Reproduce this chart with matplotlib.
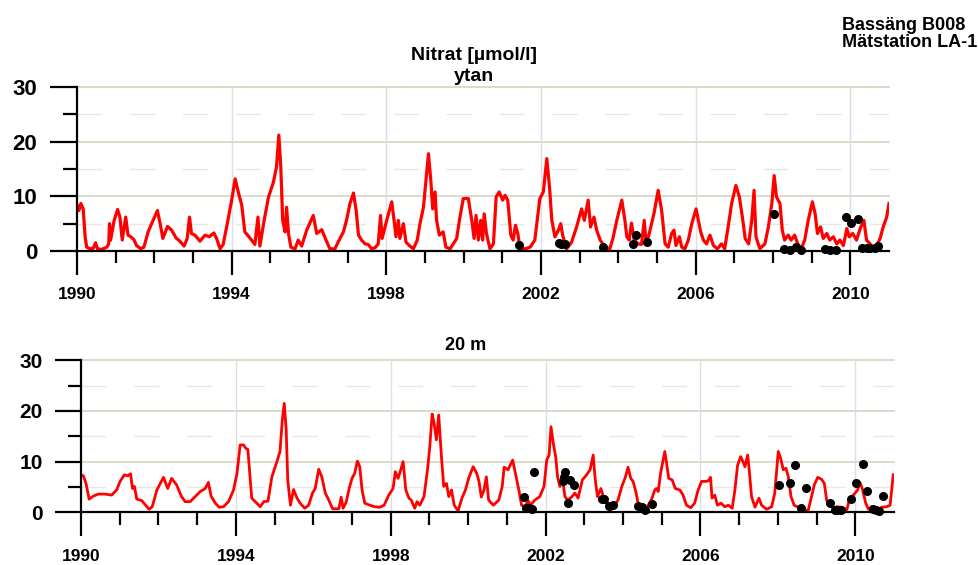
import matplotlib
matplotlib.use("Agg")
import matplotlib.pyplot as plt
import numpy as np
from matplotlib.ticker import FixedLocator

plt.rcParams['font.family'] = ['Liberation Sans', 'DejaVu Sans']
plt.rcParams['font.weight'] = 'bold'

# ---- surface (ytan) model series ----
surf_year = [
    1990.00, 1990.05, 1990.10, 1990.16, 1990.21, 1990.25, 1990.34, 1990.42, 1990.48, 1990.53, 1990.64, 1990.77, 1990.82, 1990.84, 1990.87, 1990.96,
    1991.05, 1991.11, 1991.17, 1991.26, 1991.32, 1991.39, 1991.47, 1991.54, 1991.65, 1991.73, 1991.84, 1991.93,
    1992.08, 1992.15, 1992.22, 1992.34, 1992.45, 1992.56, 1992.66, 1992.77, 1992.85, 1992.91, 1992.96,
    1993.05, 1993.18, 1993.31, 1993.42, 1993.54, 1993.61, 1993.70, 1993.78, 1993.87,
    1994.00, 1994.09, 1994.17, 1994.26, 1994.34, 1994.47, 1994.60, 1994.68, 1994.73, 1994.84, 1994.95,
    1995.08, 1995.16, 1995.22, 1995.27, 1995.32, 1995.38, 1995.42, 1995.47, 1995.53, 1995.64, 1995.72, 1995.81, 1995.94,
    1996.11, 1996.20, 1996.33, 1996.44, 1996.54, 1996.67, 1996.78, 1996.89, 1996.97,
    1997.06, 1997.15, 1997.22, 1997.28, 1997.36, 1997.45, 1997.53, 1997.62, 1997.71, 1997.79, 1997.85, 1997.89,
    1998.01, 1998.14, 1998.20, 1998.25, 1998.31, 1998.35, 1998.44, 1998.51, 1998.61, 1998.70, 1998.80, 1998.87, 1998.96,
    1999.09, 1999.15, 1999.20, 1999.26, 1999.30, 1999.37, 1999.47, 1999.54, 1999.65, 1999.73, 1999.82, 1999.89, 1999.99,
    2000.12, 2000.21, 2000.27, 2000.32, 2000.38, 2000.44, 2000.49, 2000.53, 2000.59, 2000.68, 2000.77, 2000.84, 2000.92,
    2001.01, 2001.07, 2001.14, 2001.22, 2001.28, 2001.34, 2001.40, 2001.46, 2001.59, 2001.72, 2001.84, 2001.97,
    2002.06, 2002.15, 2002.22, 2002.28, 2002.36, 2002.45, 2002.51, 2002.56, 2002.66, 2002.79, 2002.92,
    2003.05, 2003.12, 2003.22, 2003.28, 2003.37, 2003.44, 2003.53, 2003.66, 2003.78, 2003.86, 2003.96,
    2004.09, 2004.17, 2004.22, 2004.28, 2004.34, 2004.41, 2004.52, 2004.60, 2004.67, 2004.72, 2004.80, 2004.92,
    2005.03, 2005.12, 2005.21, 2005.29, 2005.38, 2005.44, 2005.49, 2005.58, 2005.64, 2005.72, 2005.81, 2005.90,
    2006.01, 2006.07, 2006.13, 2006.20, 2006.28, 2006.37, 2006.46, 2006.56, 2006.67, 2006.75, 2006.84, 2006.93,
    2007.04, 2007.13, 2007.22, 2007.28, 2007.37, 2007.45, 2007.51, 2007.56, 2007.66, 2007.79, 2007.88, 2007.97,
    2008.03, 2008.09, 2008.18, 2008.24, 2008.30, 2008.39, 2008.47, 2008.56, 2008.64, 2008.73, 2008.82, 2008.91,
    2009.02, 2009.09, 2009.15, 2009.23, 2009.30, 2009.39, 2009.47, 2009.56, 2009.65, 2009.73, 2009.82, 2009.91, 2009.97,
    2010.06, 2010.16, 2010.27, 2010.35, 2010.42, 2010.51, 2010.59, 2010.68, 2010.77, 2010.85, 2010.94, 2011.00,
]
surf_no3 = [
    8.4, 7.4, 8.7, 7.7, 2.6, 0.7, 0.4, 0.5, 1.5, 0.4, 0.3, 0.7, 1.3, 5.0, 2.0, 5.6,
    7.6, 6.2, 2.0, 6.2, 2.9, 2.6, 2.1, 1.0, 0.4, 0.7, 3.5, 5.0,
    7.4, 5.0, 2.3, 4.5, 3.8, 2.4, 1.8, 0.9, 2.3, 6.2, 3.2,
    2.9, 1.8, 2.9, 2.6, 3.3, 2.3, 0.4, 1.2, 4.4,
    9.3, 13.2, 10.8, 8.4, 3.5, 2.4, 1.2, 6.2, 0.9, 5.6, 9.8,
    12.6, 15.4, 21.2, 15.4, 5.6, 3.5, 8.0, 3.2, 0.7, 0.4, 2.0, 0.9, 3.8,
    6.5, 3.2, 3.9, 2.0, 0.4, 0.4, 2.0, 3.5, 5.6,
    8.7, 10.6, 7.4, 2.9, 2.0, 1.3, 1.2, 0.4, 0.6, 1.3, 6.5, 2.3,
    5.6, 9.0, 5.6, 2.6, 5.6, 2.3, 5.0, 1.6, 0.9, 0.4, 2.0, 5.0, 8.0,
    17.8, 12.9, 7.7, 10.8, 5.6, 2.9, 3.5, 0.7, 0.4, 1.3, 2.3, 5.6, 9.6,
    9.6, 5.6, 2.3, 6.5, 2.0, 5.6, 2.0, 6.8, 3.2, 0.4, 1.3, 9.9, 10.8,
    9.3, 10.2, 9.3, 2.9, 2.0, 4.7, 3.2, 0.4, 0.4, 0.7, 2.0, 9.6,
    10.8, 16.9, 11.7, 5.6, 2.6, 3.8, 5.0, 2.9, 0.4, 1.6, 4.4,
    7.7, 5.6, 9.3, 4.4, 6.2, 3.8, 2.0, 0.7, 0.4, 2.3, 5.6,
    9.3, 5.6, 2.6, 2.0, 5.1, 2.0, 1.3, 1.2, 5.6, 1.3, 3.2, 6.8,
    11.1, 7.4, 1.3, 0.7, 3.2, 3.8, 1.0, 2.6, 0.7, 0.4, 2.0, 5.0,
    7.7, 5.6, 3.5, 2.0, 1.3, 2.9, 1.0, 0.4, 1.3, 0.4, 4.4, 8.7,
    12.0, 9.9, 5.6, 2.3, 1.3, 5.6, 11.1, 2.6, 0.4, 1.3, 4.4, 8.7,
    13.8, 9.9, 8.7, 3.8, 2.0, 2.9, 2.0, 2.9, 1.3, 0.4, 2.0, 5.6,
    9.0, 6.8, 3.2, 4.4, 2.3, 3.2, 2.0, 2.6, 1.3, 2.0, 1.0, 4.1, 2.6,
    3.2, 2.0, 4.4, 5.6, 2.0, 1.3, 0.4, 1.0, 2.3, 4.4, 6.2, 8.7,
]
surf_obs_year = [2001.42, 2002.46, 2002.53, 2002.63, 2003.61, 2004.39, 2004.46, 2004.73,
                 2008.02, 2008.29, 2008.44, 2008.59, 2008.72, 2009.34, 2009.47, 2009.62,
                 2009.90, 2010.02, 2010.20, 2010.29, 2010.42, 2010.51, 2010.64, 2010.72]
surf_obs_no3 = [1.1, 1.4, 1.3, 1.2, 0.8, 1.2, 3.0, 1.7,
                6.8, 0.4, 0.1, 0.8, 0.1, 0.4, 0.1, 0.2,
                6.2, 5.2, 5.8, 0.5, 0.5, 0.5, 0.5, 0.9]

# ---- 20 m model series ----
deep_year = [
    1990.00, 1990.06, 1990.13, 1990.21, 1990.32, 1990.45, 1990.62, 1990.79, 1990.92,
    1991.01, 1991.12, 1991.21, 1991.28, 1991.33, 1991.38, 1991.44, 1991.57, 1991.67, 1991.76, 1991.84, 1991.96,
    1992.13, 1992.24, 1992.34, 1992.47, 1992.59, 1992.69, 1992.82, 1992.95,
    1993.08, 1993.21, 1993.29, 1993.36, 1993.47, 1993.57, 1993.68, 1993.81, 1993.94,
    1994.03, 1994.11, 1994.20, 1994.26, 1994.31, 1994.41, 1994.54, 1994.63, 1994.72, 1994.83, 1994.93,
    1995.06, 1995.14, 1995.20, 1995.25, 1995.30, 1995.34, 1995.41, 1995.49, 1995.58, 1995.66, 1995.78, 1995.88, 1995.98,
    1996.05, 1996.14, 1996.22, 1996.31, 1996.40, 1996.50, 1996.66, 1996.72, 1996.77, 1996.85, 1996.93,
    1997.00, 1997.07, 1997.14, 1997.20, 1997.26, 1997.33, 1997.46, 1997.59, 1997.72, 1997.83, 1997.95,
    1998.06, 1998.12, 1998.19, 1998.26, 1998.32, 1998.39, 1998.47, 1998.53, 1998.62, 1998.68, 1998.75, 1998.86, 1998.95,
    1999.01, 1999.07, 1999.12, 1999.18, 1999.24, 1999.31, 1999.37, 1999.44, 1999.50, 1999.57, 1999.64, 1999.74, 1999.84, 1999.93,
    2000.02, 2000.13, 2000.22, 2000.28, 2000.34, 2000.41, 2000.47, 2000.53, 2000.65, 2000.79, 2000.88, 2000.93,
    2001.03, 2001.15, 2001.22, 2001.31, 2001.38, 2001.47, 2001.55, 2001.61, 2001.72, 2001.85, 2001.96,
    2002.03, 2002.09, 2002.14, 2002.20, 2002.26, 2002.31, 2002.37, 2002.43, 2002.50, 2002.57, 2002.67, 2002.76, 2002.84, 2002.95,
    2003.06, 2003.15, 2003.23, 2003.28, 2003.34, 2003.43, 2003.52, 2003.62, 2003.71, 2003.87, 2003.97,
    2004.06, 2004.13, 2004.20, 2004.26, 2004.33, 2004.39, 2004.47, 2004.56, 2004.65, 2004.73, 2004.82, 2004.86, 2004.91, 2004.97,
    2005.03, 2005.08, 2005.12, 2005.18, 2005.27, 2005.35, 2005.47, 2005.55, 2005.64, 2005.75, 2005.85, 2005.94,
    2006.03, 2006.13, 2006.20, 2006.26, 2006.30, 2006.37, 2006.44, 2006.53, 2006.63, 2006.72, 2006.82, 2006.89, 2006.96,
    2007.04, 2007.10, 2007.15, 2007.22, 2007.26, 2007.32, 2007.41, 2007.51, 2007.58, 2007.71, 2007.84, 2007.92,
    2008.01, 2008.07, 2008.14, 2008.21, 2008.27, 2008.34, 2008.42, 2008.53, 2008.61, 2008.70, 2008.78, 2008.87, 2008.94,
    2009.03, 2009.13, 2009.20, 2009.26, 2009.34, 2009.43, 2009.52, 2009.65, 2009.78, 2009.86, 2009.95,
    2010.06, 2010.12, 2010.18, 2010.27, 2010.34, 2010.42, 2010.50, 2010.59, 2010.68, 2010.81, 2010.90, 2010.98,
]
deep_no3 = [
    7.4, 7.2, 5.7, 2.6, 3.2, 3.6, 3.6, 3.4, 4.4,
    6.1, 7.4, 7.2, 7.6, 4.7, 5.1, 2.6, 2.3, 1.4, 0.6, 1.1, 4.4,
    6.9, 4.7, 6.7, 5.4, 3.2, 2.1, 2.1, 3.1,
    4.1, 4.7, 5.9, 3.2, 1.8, 1.0, 1.1, 2.1, 4.4,
    7.7, 13.3, 13.3, 12.6, 12.4, 2.8, 1.8, 1.1, 2.1, 2.2, 7.0,
    10.0, 12.0, 18.2, 21.5, 16.3, 6.4, 1.4, 4.5, 2.8, 1.8, 0.8, 1.4, 3.8,
    4.7, 8.5, 7.0, 3.8, 2.4, 0.7, 0.7, 3.0, 0.8, 2.0, 4.8,
    6.7, 7.7, 10.1, 9.0, 4.4, 1.8, 1.4, 1.1, 1.0, 1.4, 3.4,
    4.7, 8.0, 6.7, 8.4, 10.0, 4.4, 2.8, 2.4, 0.8, 2.1, 1.4, 3.1, 8.4,
    13.0, 19.4, 17.6, 14.3, 19.2, 11.0, 5.1, 5.7, 3.1, 4.4, 1.4, 0.3, 2.8, 4.4,
    6.9, 9.0, 7.7, 6.1, 3.0, 4.4, 7.0, 2.4, 1.4, 2.4, 5.1, 8.9,
    8.4, 10.3, 7.7, 4.4, 1.4, 1.1, 2.3, 1.4, 2.4, 3.1, 5.1,
    10.3, 11.3, 16.9, 13.6, 11.0, 7.0, 5.1, 7.0, 3.1, 2.4, 3.0, 3.8, 2.8, 6.4,
    7.4, 8.4, 11.3, 6.7, 3.1, 4.7, 2.4, 1.4, 0.6, 2.4, 5.1,
    6.9, 8.9, 6.7, 6.1, 4.1, 1.8, 1.1, 0.5, 1.4, 2.4, 4.4, 4.7, 4.1, 7.7,
    10.0, 12.0, 10.0, 6.7, 6.4, 4.7, 4.4, 3.4, 1.4, 0.9, 1.8, 4.4,
    6.1, 6.1, 6.2, 6.9, 2.8, 3.4, 1.4, 1.8, 1.1, 1.4, 0.8, 4.4, 9.3,
    11.0, 10.0, 9.0, 11.3, 8.4, 3.1, 1.0, 2.8, 1.4, 0.6, 1.1, 3.8,
    12.0, 10.7, 8.4, 8.7, 7.0, 3.1, 1.4, 1.0, 1.1, 0.5, 0.3, 3.1, 5.4,
    6.9, 6.5, 5.7, 2.4, 1.4, 0.8, 1.1, 1.0, 0.5, 2.8, 3.4,
    4.4, 5.9, 4.7, 1.8, 0.6, 1.1, 1.0, 0.6, 1.0, 1.1, 1.4, 7.4,
]
deep_obs_year = [2001.43, 2001.49, 2001.58, 2001.65, 2001.71, 2002.45, 2002.48, 2002.51, 2002.59,
                 2002.64, 2002.73, 2003.45, 2003.52, 2003.63, 2003.74, 2004.40, 2004.50, 2004.57,
                 2004.74, 2008.03, 2008.31, 2008.43, 2008.60, 2008.73, 2009.34, 2009.48, 2009.54,
                 2009.63, 2009.90, 2010.02, 2010.21, 2010.31, 2010.46, 2010.53, 2010.62, 2010.72]
deep_obs_no3 = [3.0, 0.85, 0.85, 0.7, 7.9, 6.2, 7.0, 8.0, 1.8,
                6.4, 5.3, 2.6, 2.6, 1.3, 1.5, 1.2, 1.0, 0.5,
                1.7, 5.4, 5.8, 9.4, 0.85, 4.7, 1.9, 0.5, 0.5,
                0.5, 2.7, 5.8, 9.6, 4.2, 0.6, 0.45, 0.3, 3.3]

year_labels = list(range(1990, 2011, 4))
minor_years = list(range(1991, 2010))

W, H = 979, 565
fig = plt.figure(figsize=(W / 100, H / 100), dpi=100)
fig.patch.set_facecolor('white')


def px(x, y):
    return x / W, 1 - y / H


def style_axes(ax, ysize, ymaj, ymin, xmaj, xmin):
    ax.set_xlim(1990, 2011)
    ax.set_ylim(0, 30)
    for s in ['top', 'right']:
        ax.spines[s].set_visible(False)
    for s in ['left', 'bottom']:
        ax.spines[s].set_linewidth(1.6)
    ax.xaxis.set_major_locator(FixedLocator(year_labels))
    ax.xaxis.set_minor_locator(FixedLocator(minor_years))
    ax.yaxis.set_major_locator(FixedLocator([0, 10, 20, 30]))
    ax.yaxis.set_minor_locator(FixedLocator([5, 15, 25]))
    ax.tick_params(axis='y', which='major', length=ymaj, width=1.6, labelsize=ysize, pad=9)
    ax.tick_params(axis='y', which='minor', length=ymin, width=1.6)
    ax.tick_params(axis='x', which='major', length=xmaj, width=1.6, labelsize=12.5, pad=9)
    ax.tick_params(axis='x', which='minor', length=xmin, width=1.6)
    for lab in ax.get_xticklabels() + ax.get_yticklabels():
        lab.set_fontweight('bold')
    # grid
    for v in [10, 20, 30]:
        ax.axhline(v, color='#d5d5c3', lw=1.2, zorder=0, clip_on=False)
    for v in [5, 15, 25]:
        ax.axhline(v, color='#e6e6e6', lw=1.0, ls=(0, (18, 20)), zorder=0)
    for yr in year_labels[1:]:
        ax.axvline(yr, color='#dedede', lw=1.0, zorder=0)


ax1 = fig.add_axes([77 / W, 1 - 251 / H, (889 - 77) / W, (251 - 87) / H])
style_axes(ax1, 16, 19.5, 10, 17, 8.6)
ax1.plot(surf_year, surf_no3, color='#ff0000', lw=2.3, zorder=2)
ax1.plot(surf_obs_year, surf_obs_no3, 'o', color='black', ms=5.5, zorder=4, clip_on=False)

ax2 = fig.add_axes([81 / W, 1 - 512.3 / H, (894 - 81) / W, (512.3 - 360.3) / H])
style_axes(ax2, 15, 18.5, 9.5, 17.5, 9)
ax2.plot(deep_year, deep_no3, color='#ff0000', lw=2.0, zorder=2)
ax2.plot(deep_obs_year, deep_obs_no3, 'o', color='black', ms=5.5, zorder=4, clip_on=False)

# titles
fig.text(*px(474, 47), 'Nitrat [µmol/l]\nytan', ha='center', va='top', fontsize=14,
         fontweight='bold', linespacing=1.3, multialignment='center')
fig.text(*px(466, 350), '20 m', ha='center', va='baseline', fontsize=13, fontweight='bold')
fig.text(*px(842, 30), 'Bassäng B008', ha='left', va='baseline', fontsize=13, fontweight='bold')
fig.text(*px(842, 47), 'Mätstation LA-1', ha='left', va='baseline', fontsize=13, fontweight='bold')

fig.savefig('out.png', dpi=100, facecolor='white')
